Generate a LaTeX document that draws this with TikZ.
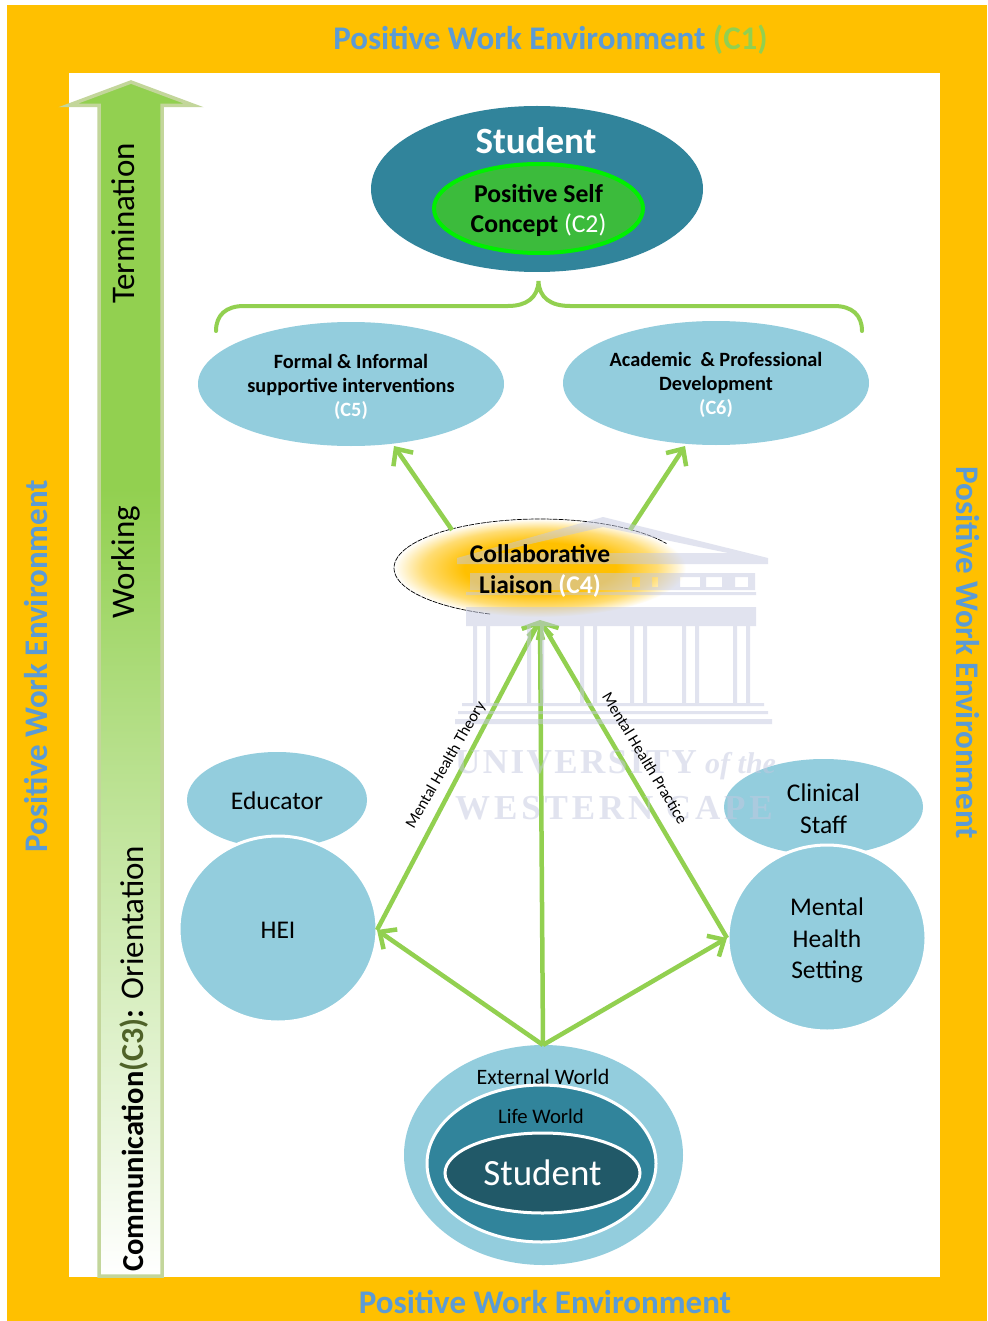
\documentclass[tikz,border=0pt]{standalone}
\usepackage{fontspec}
\setmainfont{Carlito}
\newfontfamily\wmfont{Liberation Serif}
\usetikzlibrary{arrows.meta,shapes.geometric}
\definecolor{frameY}{HTML}{FFC000}
\definecolor{blueT}{HTML}{5B9BD5}
\definecolor{gr}{HTML}{92D050}
\definecolor{grB}{HTML}{C3D69B}
\definecolor{grD}{HTML}{4F6228}
\definecolor{lb}{HTML}{93CDDD}
\definecolor{teal}{HTML}{31849B}
\definecolor{dteal}{HTML}{215968}
\definecolor{inG}{HTML}{3CBB3C}
\definecolor{inB}{HTML}{00F000}
\definecolor{wm}{HTML}{C4C9E0}
\pgfdeclareverticalshading{arrowgrad}{100bp}{color(0bp)=(white); color(25bp)=(white); color(58bp)=(gr); color(100bp)=(gr)}
\pgfdeclareradialshading{collabgrad}{\pgfpoint{0bp}{0bp}}{color(0bp)=(frameY); color(13bp)=(frameY); color(20bp)=(frameY!55!white); color(25bp)=(white); color(50bp)=(white)}
\newcommand{\fs}[2]{\fontsize{#1}{#2}\selectfont}
\newcommand{\dn}[2]{\raisebox{-#1}[\height][\depth]{#2}}
\tikzset{
 oval/.style={ellipse,inner sep=0pt,align=center,text=black},
 lblue/.style={oval,fill=lb},
 whiteedge/.style={draw=white,line width=3pt},
 link/.style={draw=gr,line width=4.5pt,-{Straight Barb[length=13pt,width=24pt,line width=4.5pt]}},
 frametext/.style={text=blueT,font=\fs{33}{36}\bfseries,inner sep=0pt},
 stagetext/.style={rotate=90,inner sep=0pt,font=\fs{33}{36}},
 armlabel/.style={inner sep=0pt,font=\fs{16.2}{18}},
}
\begin{document}
\begin{tikzpicture}[x=1pt,y=-1pt]
\useasboundingbox (0,0) rectangle (987,1321);
\fill[white] (0,0) rectangle (987,1321);
\fill[frameY] (7,5) rectangle (987,1321);
\fill[white] (69,73) rectangle (940,1277);
% side / top / bottom labels
\node[frametext] (ttop) at (550.5,40) {Positive Work Environment \textcolor{gr}{(C1)}};
\node[frametext] (tbot) at (545,1302) {Positive Work Environment};
\node[frametext,rotate=90] (tleft) at (36,666) {Positive Work Environment};
\node[frametext,rotate=-90] (tright) at (968,653) {Positive Work Environment};
% stage arrow
\path[shade,shading=arrowgrad,draw=grB,line width=3.5pt,line join=miter,miter limit=10]
 (131,82) -- (194,105.5) -- (162,105.5) -- (162,1276) -- (99,1276) -- (99,105.5) -- (68,105.5) -- cycle;
\node[stagetext] (term) at (123,223.5) {Termination};
\node[stagetext] (work) at (126,562) {Working};
\node[stagetext,anchor=base west] (comm) at (143,1272) {\fs{30.5}{36}\textbf{Communication}\fs{32}{36}\textcolor{grD}{\textbf{(C3)}}\textbf{:}};
\node[stagetext,anchor=base] (orient) at (143,922.5) {Orientation};
% top student
\node[oval,fill=teal,minimum width=332pt,minimum height=166pt] (stud) at (537,189) {};
\node[inner sep=0pt,text=white,font=\fs{37}{40}\bfseries] (studT) at (536,141) {Student};
\node[oval,fill=inG,draw=inB,line width=4pt,minimum width=209pt,minimum height=89pt,font=\fs{25.7}{30}\bfseries] (self) at (538.5,208.5) {\dn{2pt}{Positive Self}\\\dn{2pt}{Concept \textcolor{white}{\mdseries (C2)}}};
% brace
\draw[gr,line width=4pt,line cap=round] (216,331) .. controls (216,315) and (226,306) .. (244,306) -- (508,306) .. controls (526,306) and (538,298) .. (538.5,281) .. controls (539,298) and (551,306) .. (570,306) -- (834,306) .. controls (852,306) and (862,315) .. (862,331);
% C5, C6
\node[lblue,minimum width=306pt,minimum height=124pt,font=\fs{20.3}{24}\bfseries] (c5) at (351,384) {\dn{2.5pt}{Formal \& Informal}\\\dn{2.5pt}{supportive interventions}\\\dn{2.5pt}{\textcolor{white}{(C5)}}};
\node[lblue,minimum width=306pt,minimum height=124pt,font=\fs{20.3}{24}\bfseries] (c6) at (716,383) {\dn{2pt}{Academic\ \ \& Professional}\\\dn{2pt}{Development}\\\dn{2pt}{\textcolor{white}{(C6)}}};
% collaborative liaison
\node[ellipse,inner sep=0pt,shade,shading=collabgrad,minimum width=292pt,minimum height=98pt] (collab) at (540,568) {};
\draw[black,line width=.7pt,dash pattern=on 5pt off 1pt,shift={(collab.center)}] plot[domain=110:330,samples=70] ({146*cos(\x)},{49*sin(\x)});
\coordinate (collabL) at (452,530);
\coordinate (collabR) at (630,530);
\coordinate (collabB) at (540,620);
% left / right
\node[lblue,minimum width=180pt,minimum height=96pt,font=\fs{25.5}{30}] (edu) at (277,800) {\dn{1pt}{Educator}};
\node[lblue,whiteedge,minimum width=198pt,minimum height=186pt,font=\fs{25.5}{30}] (hei) at (278,929) {\dn{1pt}{HEI}};
\node[lblue,minimum width=199pt,minimum height=96pt,font=\fs{25.5}{31.5}] (clin) at (823.5,807) {\dn{1.5pt}{Clinical}\\\dn{1.5pt}{Staff}};
\node[lblue,whiteedge,minimum width=198pt,minimum height=186pt,font=\fs{25.5}{31.5}] (mhs) at (827,938) {\dn{2.5pt}{Mental}\\\dn{2.5pt}{Health}\\\dn{2.5pt}{Setting}};
% bottom
\node[oval,fill=lb,minimum width=279pt,minimum height=220pt] (ext) at (543.5,1155) {};
\node[inner sep=0pt,font=\fs{22}{24}] (extT) at (543,1077) {External World};
\node[oval,fill=teal,draw=white,line width=3pt,minimum width=229pt,minimum height=157pt] (life) at (541.5,1163.5) {};
\node[inner sep=0pt,font=\fs{20.7}{24}] (lifeT) at (541,1116) {Life World};
\node[oval,fill=dteal,draw=white,line width=3pt,minimum width=195pt,minimum height=80pt,text=white,font=\fs{37}{40}] (inner) at (542.5,1173) {Student};
\coordinate (extTop) at (543,1045);
\coordinate (heiR) at (377,930);
\coordinate (mhsL) at (727,938);
\coordinate (c5B) at (394,446);
\coordinate (c6B) at (685,446);
% connectors
\draw[link] (collabL) -- (c5B);
\draw[link] (collabR) -- (c6B);
\draw[link] (heiR) -- (collabB);
\draw[link] (mhsL) -- (collabB);
\draw[link] (extTop) -- (collabB);
\draw[link] (extTop) -- (heiR);
\draw[link] (extTop) -- (mhsL);
% watermark
\begin{scope}[transparency group,opacity=.5]
\fill[wm,even odd rule] (457,558) -- (603,517) -- (768,558) -- cycle (492,553) -- (603,527) -- (728,553) -- cycle;
\fill[wm] (457,558) rectangle (768,564);
\fill[wm,even odd rule] (470,573) rectangle (755,590)
  (632,577) rectangle (640,587) (652,577) rectangle (658,587) (680,577) rectangle (700,587) (706,577) rectangle (722,587) (735,577) rectangle (748,587);
\fill[wm] (466,592) rectangle (756,595);
\fill[wm] (466,607) rectangle (756,626);
\foreach \cx in {473,527,580,630,682,733}{
 \fill[wm] (\cx,626) rectangle (\cx+4,703);
 \fill[wm] (\cx+13,626) rectangle (\cx+17,703);
}
\fill[wm] (462,703) rectangle (764,706);
\fill[wm] (458,711) rectangle (768,714);
\fill[wm] (455,719) rectangle (772,724);
\node[inner sep=0pt,anchor=west,text=wm,font=\fs{35}{40}\wmfont\bfseries\addfontfeatures{LetterSpace=7}] (wm1) at (455,765) {UNIVERSITY\hspace{-3pt} \textit{\addfontfeatures{LetterSpace=0}\fs{30}{40}of the}};
\node[inner sep=0pt,anchor=west,text=wm,font=\fs{35}{40}\wmfont\bfseries\addfontfeatures{LetterSpace=11}] (wm2) at (455,808) {WESTERN CAPE};
\end{scope}
% labels on top of watermark
\node[armlabel,rotate=60] (lt) at (446,765) {Mental Health Theory};
\node[armlabel,rotate=-59] (lp) at (645,758) {Mental Health Practice};
\node[inner sep=0pt,align=center,font=\fs{25.5}{31}\bfseries] (collabT) at (540,571) {Collaborative\\Liaison \textcolor{white}{(C4)}};
\end{tikzpicture}
\end{document}
